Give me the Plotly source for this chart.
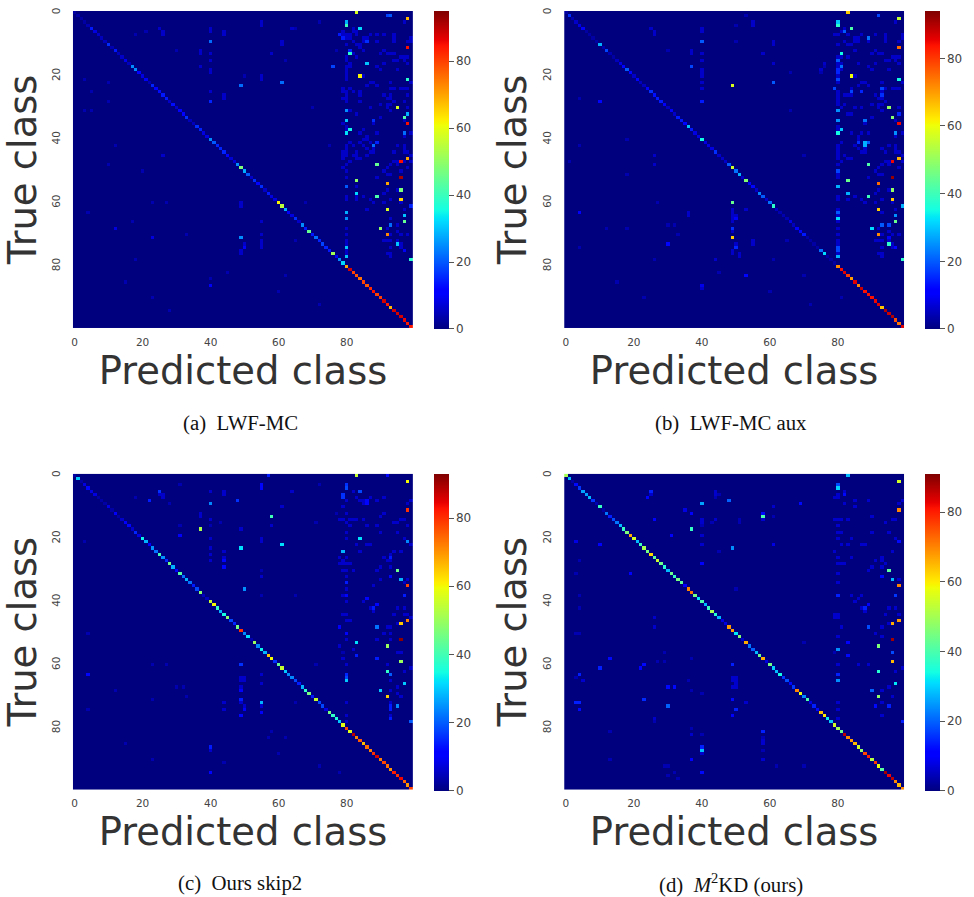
import numpy as np
import plotly.graph_objects as go

W, H = 974, 897
FONT = "DejaVu Sans"
SERIF = "Liberation Serif"
JET = [[0, "rgb(0,0,127)"], [0.11, "rgb(0,0,255)"], [0.125, "rgb(0,0,255)"], [0.34, "rgb(0,220,255)"],
       [0.35, "rgb(0,230,247)"], [0.375, "rgb(20,255,226)"], [0.64, "rgb(238,255,8)"], [0.65, "rgb(247,246,0)"],
       [0.66, "rgb(255,236,0)"], [0.89, "rgb(255,19,0)"], [0.91, "rgb(232,0,0)"], [1, "rgb(127,0,0)"]]

tick_vals = [0, 20, 40, 60, 80]
captions = ["(a)\u2002LWF-MC", "(b)\u2002LWF-MC aux", "(c)\u2002Ours skip2", "(d)\u2002<i>M</i><sup>2</sup>KD (ours)"]
zmax_values = [95, 94, 93, 91]

diag_a = [3,3,3,3,4,14,8,6,5,5,16,4,14,5,6,9,5,25,25,12,8,10,4,15,12,13,14,14,6,13,6,12,12,16,5,5,16,15,8,8,25,20,15,15,15,12,7,7,25,48,
          28,20,6,16,12,16,6,14,8,8,62,55,28,10,8,16,6,25,14,45,14,22,15,18,15,14,52,12,25,32,70,88,80,78,75,80,78,82,85,80,80,88,84,68,88,88,88,86,84,84]
diag_b = [3,16,4,6,8,10,3,3,3,3,28,4,18,4,3,5,8,12,20,12,6,12,5,5,10,16,13,14,14,10,5,10,6,14,14,12,30,14,8,8,35,8,8,8,16,6,6,6,20,56,
          22,28,6,48,10,12,6,24,20,6,22,38,5,4,4,4,8,5,10,12,14,3,3,3,3,22,32,3,3,3,72,84,86,80,70,86,72,88,84,84,84,85,86,66,90,88,90,78,74,86]
diag_c = [3,30,3,8,12,8,8,3,3,3,8,3,10,3,6,10,12,6,15,8,34,28,10,25,22,40,25,15,45,28,12,42,22,28,22,14,18,48,5,5,55,60,38,28,35,48,18,15,46,80,
          24,32,4,50,24,34,28,65,60,16,44,55,30,24,24,18,14,28,38,46,14,55,18,18,8,46,38,36,30,58,78,58,88,72,76,66,74,72,80,86,72,78,74,70,82,80,84,75,70,78]
diag_d = [50,28,3,12,16,26,26,28,16,4,38,3,22,14,18,22,28,38,46,66,55,28,38,50,45,62,42,54,44,36,28,44,38,45,42,10,70,72,45,32,40,28,38,50,36,28,8,8,68,68,
          32,46,6,66,22,20,28,44,66,8,45,30,28,34,16,18,12,16,70,58,24,40,8,14,12,64,60,33,30,55,50,44,86,70,68,65,55,48,76,80,52,78,58,42,88,82,86,70,65,70]

hot_a = [(83,0,58),(98,2,68),(80,3,28),(80,4,40),(84,5,32),(92,1,18),(93,1,20),(98,11,85),(81,13,38),(81,12,15),(86,16,30),(76,17,18),(84,20,62),
         (98,21,38),(49,23,22),(61,22,22),(40,9,22),(40,28,15),(95,30,58),(97,33,42),(98,32,28),(80,31,25),(80,34,30),(98,35,85),(81,37,35),(80,38,33),
         (97,38,22),(88,34,16),(88,42,22),(89,41,15),(98,46,70),(96,47,85),(89,48,45),(96,52,92),(83,53,50),(92,54,70),(80,55,20),(96,56,48),(83,57,32),
         (89,58,42),(96,59,65),(99,61,15),(92,62,58),(80,63,28),(97,64,30),(80,65,25),(97,66,45),(93,67,22),(90,68,50),(92,70,73),(49,71,25),(95,73,30),
         (80,74,30),(80,77,30),(99,78,38),(97,75,10),(86,9,16),(79,8,14),(78,7,14),(12,68,8),(23,71,8),(40,86,10),(50,74,10)]
hot_b = [(83,0,65),(92,1,18),(98,2,55),(80,3,30),(80,4,38),(84,5,42),(82,6,20),(89,8,22),(40,9,20),(98,11,75),(81,13,35),(37,17,18),(81,17,22),(80,15,20),
         (80,18,15),(80,19,15),(84,20,60),(98,21,35),(80,21,18),(49,23,58),(61,22,20),(79,24,18),(93,24,18),(84,25,18),(87,25,15),(93,26,16),(40,28,14),(10,28,12),
         (95,30,50),(80,31,25),(96,33,48),(98,32,15),(80,34,25),(88,34,22),(98,35,85),(81,37,30),(80,38,35),(97,38,25),(88,42,28),(88,41,28),(89,41,20),(86,41,16),
         (98,46,68),(96,47,85),(89,48,42),(80,50,18),(96,52,92),(83,53,45),(92,54,75),(80,55,28),(96,56,50),(83,57,28),(89,58,40),(96,59,65),(49,60,45),(99,61,28),
         (92,62,65),(80,63,20),(97,64,25),(80,65,32),(97,66,45),(93,67,20),(95,67,18),(90,68,32),(49,68,16),(92,70,72),(49,71,65),(95,73,38),(50,74,15),(80,74,18),
         (80,75,18),(80,77,28),(99,78,38),(53,83,12),(30,73,12),(50,65,10),(40,86,9),(53,62,6),(95,71,10),(97,74,12),(4,63,10)]
hot_c = [(83,0,55),(57,0,14),(92,0,12),(98,2,60),(80,3,16),(80,4,18),(55,3,12),(55,4,12),(84,5,18),(25,5,16),(79,6,16),(79,7,16),(22,8,14),(48,8,16),(40,9,24),
         (86,8,12),(86,9,12),(98,11,80),(58,13,40),(37,17,52),(84,20,32),(98,21,24),(61,22,32),(49,23,32),(79,24,28),(95,30,45),(96,33,28),(98,35,78),(50,36,25),
         (98,46,72),(96,47,65),(89,48,22),(96,52,92),(92,54,50),(83,53,32),(96,59,50),(92,62,38),(93,63,20),(80,65,30),(80,63,15),(80,64,18),(97,66,30),(90,68,30),
         (92,70,64),(55,72,28),(95,73,24),(99,78,20),(49,60,16),(4,63,12),(40,94,12),(40,86,14),(89,58,14),(80,34,14),(80,38,12),(88,42,14),(89,41,12),(86,39,12),
         (93,26,14),(93,32,12),(97,38,14),(93,73,14),(93,74,14),(93,77,14),(49,68,10),(49,71,14),(49,76,12),(50,74,10),(44,27,12),(44,29,12),(55,75,10),(31,19,10),
         (83,57,14),(80,50,12),(78,48,10)]
hot_d = [(83,0,28),(98,2,55),(80,3,18),(80,4,30),(82,6,12),(25,5,14),(24,7,10),(48,8,20),(40,9,26),(69,9,12),(98,11,70),(58,12,12),(58,13,40),(37,17,38),(49,23,24),
         (95,30,42),(96,33,28),(98,35,70),(97,38,16),(80,38,14),(98,46,68),(96,47,66),(89,48,18),(96,52,88),(92,54,46),(80,55,24),(96,56,18),(96,59,65),(92,62,36),
         (80,65,24),(80,63,14),(97,66,32),(90,68,20),(92,70,48),(23,71,15),(30,73,20),(50,74,14),(10,61,14),(13,58,12),(40,86,14),(40,87,28),(58,81,14),(99,78,14),
         (98,21,12),(95,73,14),(91,73,12),(61,22,8),(37,90,10),(40,94,12),(88,42,14),(89,41,10),(93,32,12),(83,57,12),(83,53,10),(49,60,14),(23,60,12),(22,61,10),
         (4,63,14),(3,72,14),(4,72,14),(4,74,12),(49,71,12),(49,76,10),(30,67,12),(32,67,12),(3,21,8),(10,22,10),(19,31,10),(40,28,10),(31,19,10),(26,14,10),(35,11,8),(37,12,10)]

dim_a = {80:[7,8,10,14,15,17,18,19,20,21,25,26,27,28,36,37,42,43,44,45,48,50,52,58,59,68,70,72,73,75,76],
         79:[6,7,8,24,25,27,35,44,45,46,49],81:[7,8,16,17,24,31,41,47],82:[5,6,9,13,25,42,45],83:[6,7,10,14,32,44,45,46,55,58,59],
         84:[10,11,25,26,28,38,41,46],85:[8,9,12,20,37,40,42,58],86:[8,23,39,40,43,45,62],87:[7,22,30,41,44,59],88:[22,35,43,44,60],
         89:[7,9,17,23,38,52],90:[13,18,29,33],91:[7,12,16,26,50,57,60,72],92:[13,27,29,30,49,51,56,68,72,76],
         93:[13,22,24,26,27,29,31,48,51,59,65,70,72,74,76,77],94:[7,8,9,13,15,24,28,44,47],95:[15,18,42,47,48,56,67,69,72],96:[14,24,50,60,70,73,74],
         97:[3,14,15,24,28,34,39,42,43,44,47,62],98:[9,14,16,24,26,30,44,49,70],99:[8,9,22,38,45,47],
         40:[5,6,13,15,18,19,25],37:[12,13,17],49:[60,61,75,76],50:[73,74],55:[3,4,20,21,66,70,72,73,74],26:[6,7,45],25:[5],44:[6,7,26,27],61:[9,10],58:[13],64:[5]}
dim_b = {80:[7,10,14,16,17,20,22,25,26,27,28,29,36,37,42,43,44,45,46,48,51,52,58,59,62,64,66,68,70,72,73,76],
         79:[7,24],81:[6,14,16,18,30,41,47],82:[5,9,26,29,45],83:[7,10,14,26,32,46,59],84:[10,24,26,32,38,46],85:[8,9,12,20,30,42,58],86:[8,9,16,23,39,40,43],
         87:[7,22,30,38,44,59],88:[22,35,43,44,60],89:[9,17,23,38,52],90:[13,18,29,33],91:[7,12,16,26,50,57,60,72],92:[13,27,29,30,49,51,56,68,72,76],
         93:[13,22,25,27,29,31,43,48,51,59,63,70,72,74,76,77],94:[7,8,9,15,24,28,44,47],95:[15,18,42,47,48,56,69,72],96:[14,24,60,70,73,74],
         97:[3,14,15,24,34,39,42,43,44,62],98:[9,14,16,24,30,44,49,70],99:[7,8,22,38,45,47],40:[5,6,13,15,18,19,20,22,24,87],37:[12,13],49:[62,63,64,65,66,69,75,76],
         50:[64,73],51:[76,77],55:[3,4,72,73],26:[6,7,45,48],25:[5],61:[9,10,16],58:[13],75:[18],76:[16],36:[63,64],44:[78]}
dim_c = {80:[8,12,15,18,20,26,28,30,32,36,40,44,46,52,60,72,76,78],79:[10,14,27,28,30,38,44,58],78:[14,26,28,48,54],81:[14,16,28,46],82:[5,14,30,55],83:[7,14,22],
         84:[8,24],85:[8,9,14,40],86:[8,16,22,39],87:[7,22,42],88:[35,43],89:[8,16,30,52],90:[13,18,29,33],91:[7,12,26,50],92:[27,48,60],93:[25,27,29,48,50,52,65,68,72,76],
         94:[15,24,44],95:[15,18,42,47,56,67,69],96:[14,24,56,70],97:[14,20,34,42,44,62],98:[9,16,33,44],99:[8,22,61,45],40:[5,14,20,23,25,27,87],37:[12,13],49:[17,64,65,67,72],
         50:[64,65,73],55:[3,20,21,32,63,66,73],26:[6,7],25:[6],44:[5,6,24,26,72,74],61:[10],58:[16],64:[5]}
dim_d = {80:[6,7,14,16,18,20,26,28,31,34,44,45,51,60,72,74,77],79:[7,14,24,44,45],81:[14,18,22,28,48],82:[5,9,28],83:[14,22],84:[20,26,38],85:[8,10,40],86:[39,60],87:[22,38,42],
         88:[22,43],89:[8,30,60],90:[13,18,29],91:[27,50],93:[26,27,29,48,51,68,72,76],94:[15,28,44],95:[18,42,47,67],96:[14,24,70],97:[14,20,42,62],98:[9,33,44],99:[8,61],
         40:[14,15,19,22,88],26:[14,45,48,77],25:[6],44:[5,6,14],49:[64,65,67],50:[64,65,66,67],58:[14,84,85,90],61:[10],5:[65],53:[72],37:[82]}

faint_a = [(18,78),(40,84),(62,83),(5,25),(10,22),(3,21),(23,60),(10,28),(4,63),(3,31),(18,7),(21,6),(25,5),(26,7),(37,12),(44,7),(58,13),(61,10),(65,5),(72,3),(77,12),(55,74),
           (5,31),(12,42),(20,50),(27,60),(33,70),(15,85),(23,90),(45,82),(60,88),(65,72),(72,92),(30,12),(50,20),(70,30),(62,15),(75,42),(68,60),(10,48),(17,66),(28,94)]
faint_b = [(4,74),(4,42),(4,27),(1,47),(18,68),(12,68),(18,40),(18,51),(30,67),(32,67),(26,78),(61,78),(70,83),(81,90),(70,45),(50,9),(50,4),(53,1),(75,19),(76,17),(66,31),(66,19),
           (44,78),(15,85),(23,90),(45,82),(60,88),(65,72),(72,92),(30,12),(33,70),(27,60)]
faint_c = [(4,50),(4,74),(3,21),(12,68),(30,67),(32,67),(23,71),(23,60),(58,81),(62,83),(57,83),(44,91),(71,60),(78,94),(79,56),(77,12),(72,3),(71,15),(65,38),(55,38),(55,30),(55,21),
           (40,16),(43,15),(31,3),(18,7),(28,9),(31,16),(15,85),(23,90),(60,88),(65,72),(72,92),(33,70),(27,60)]
faint_d = [(4,27),(3,31),(4,38),(4,42),(3,50),(4,50),(3,64),(37,80),(40,82),(50,36),(58,83),(58,87),(70,53),(79,56),(70,92),(62,92),(13,90),(13,81),(27,59),(29,59),(29,56),(32,94),
           (30,92),(29,92),(33,96),(30,95),(37,58),(36,65),(37,68),(40,69),(40,16),(43,15),(45,6),(44,7),(45,24),(51,15),(51,14),(61,13),(26,78),(40,88)]


def build(diag, hot, dim, faint):
    z = np.zeros((100, 100))
    for c, r in faint:
        z[r, c] = 4
    for c, rows in dim.items():
        for r in rows:
            z[r, int(c)] = 6
    for c, r, v in hot:
        z[r, c] = v
    for i, v in enumerate(diag):
        z[i, i] = v
    return z


panels = [(diag_a, hot_a, dim_a, faint_a), (diag_b, hot_b, dim_b, faint_b), (diag_c, hot_c, dim_c, faint_c), (diag_d, hot_d, dim_d, faint_d)]
x_px = [(71, 412, 433), (563.3, 904, 925), (71, 412, 433), (563.3, 904, 925)]
y_px = [(8, 326), (8, 326), (472.3, 789.3), (472.3, 789.3)]
cap_y = [421, 421, 883, 883]
labels = list(range(100))

fig = go.Figure()
layout = dict(width=W, height=H, margin=dict(l=0, r=0, t=0, b=0), paper_bgcolor="white", plot_bgcolor="white", showlegend=False, annotations=[])
for i, (d, h, m, f) in enumerate(panels):
    x0, x1, cb = x_px[i]
    y0, y1 = y_px[i]
    n = "" if i == 0 else str(i + 1)
    fig.add_trace(go.Heatmap(
        z=build(d, h, m, f), x=labels, y=labels, xaxis=f"x{n}", yaxis=f"y{n}", zmin=0, zmax=zmax_values[i], colorscale=JET,
        xgap=0, ygap=0, hoverongaps=False,
        colorbar=dict(x=cb / W, xanchor="left", xpad=0, y=1 - y0 / H, yanchor="top", ypad=0, lenmode="pixels", len=y1 - y0,
                      thicknessmode="pixels", thickness=15, outlinewidth=0, tickvals=[0, 20, 40, 60, 80], ticks="outside",
                      ticklen=5, tickcolor="#555", tickfont=dict(family=FONT, size=12, color="#444"))))
    layout[f"xaxis{n}"] = dict(domain=[x0 / W, x1 / W], anchor=f"y{n}", range=[-0.5, 99.5], tickvals=tick_vals, ticks="outside", ticklen=4,
                               tickcolor="white", showgrid=False, zeroline=False, showline=False, tickangle=0,
                               tickfont=dict(family=FONT, size=10.5, color="#444"),
                               title=dict(text="Predicted class", standoff=0, font=dict(family=FONT, size=38.5, color="#333")))
    layout[f"yaxis{n}"] = dict(domain=[1 - y1 / H, 1 - y0 / H], anchor=f"x{n}", range=[99.5, -0.5], tickvals=tick_vals, ticks="outside", ticklen=8,
                               tickcolor="white", showgrid=False, zeroline=False, showline=False, tickangle=-90,
                               tickfont=dict(family=FONT, size=10.5, color="#444"),
                               title=dict(text="True class", standoff=2, font=dict(family=FONT, size=38.5, color="#333")))
    layout["annotations"].append(dict(text=captions[i], xref="paper", yref="paper", x=(x0 + x1) / 2 / W - (3 / W), y=1 - cap_y[i] / H, showarrow=False,
                                      xanchor="center", yanchor="middle", font=dict(family=SERIF, size=20.8, color="#111")))
fig.update_layout(**layout)
fig.write_html("out.html", config={"displayModeBar": False}, post_script="document.body.style.margin='0';document.documentElement.style.overflow='hidden';")
